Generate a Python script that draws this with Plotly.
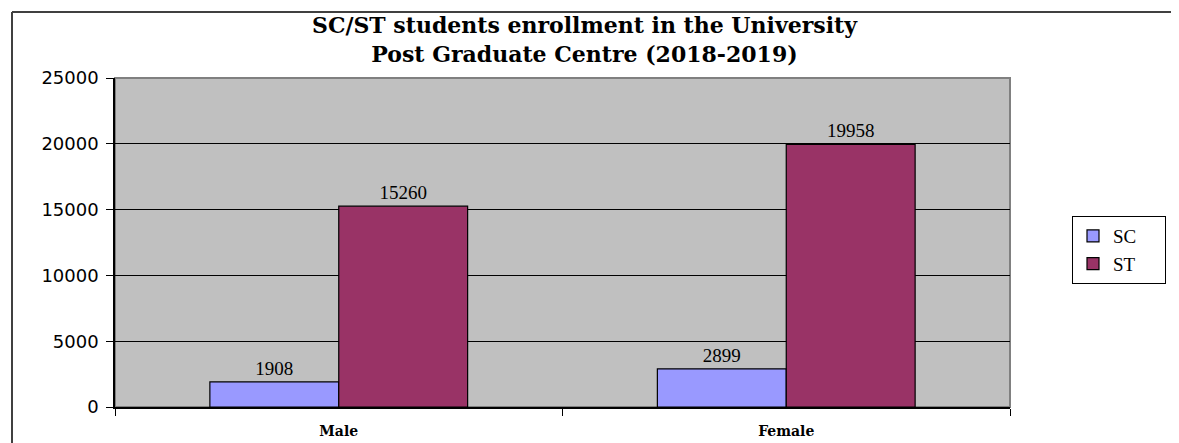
import plotly.graph_objects as go

# 데이터
categories = ["Male", "Female"]
series_names = ["SC", "ST"]
sc_values = [1908, 2899]
st_values = [15260, 19958]
y_ticks = [0, 5000, 10000, 15000, 20000, 25000]

# 브라우저 body 기본 여백(8px) 보정
OFF = 8
W, H = 1179 - OFF, 443 - OFF
PLOT_L, PLOT_R, PLOT_T, PLOT_B = 115 - OFF, 1010 - OFF, 78 - OFF, 407 - OFF


def px_x(px):
    return (px - OFF - PLOT_L) / (PLOT_R - PLOT_L)


def px_y(py):
    return (PLOT_B - (py - OFF)) / (PLOT_B - PLOT_T)


label_font = dict(family="Liberation Serif", size=19, color="black")
pad = "\u00a0" * 5  # 범례 박스 폭 확보용

fig = go.Figure()
fig.add_trace(go.Bar(
    x=categories, y=sc_values, name=series_names[0] + pad,
    marker=dict(color="#9999FF", line=dict(color="black", width=1.2)),
    text=[str(v) for v in sc_values], textposition="outside",
    textfont=label_font, cliponaxis=False,
))
fig.add_trace(go.Bar(
    x=categories, y=st_values, name=series_names[1] + pad,
    marker=dict(color="#993366", line=dict(color="black", width=1.2)),
    text=[str(v) for v in st_values], textposition="outside",
    textfont=label_font, cliponaxis=False,
))

# 외곽 차트 테두리 + 플롯 영역 테두리
shapes = [
    dict(type="line", xref="paper", yref="paper", x0=px_x(12), x1=px_x(12),
         y0=px_y(12), y1=px_y(470), line=dict(color="#404040", width=2)),
    dict(type="line", xref="paper", yref="paper", x0=px_x(12), x1=px_x(1200),
         y0=px_y(12), y1=px_y(12), line=dict(color="#404040", width=2)),
    dict(type="rect", xref="paper", yref="paper", x0=0, x1=1, y0=0, y1=1,
         line=dict(color="#808080", width=2), layer="below"),
]

fig.update_layout(
    width=W, height=H,
    margin=dict(l=PLOT_L, r=W - PLOT_R, t=PLOT_T, b=H - PLOT_B, autoexpand=False),
    paper_bgcolor="white",
    plot_bgcolor="#C0C0C0",
    barmode="group",
    bargap=0.424,
    bargroupgap=0,
    showlegend=True,
    legend=dict(
        x=px_x(1072), y=px_y(216), xanchor="left", yanchor="top",
        bordercolor="black", borderwidth=1, bgcolor="white",
        font=dict(family="Liberation Serif", size=19, color="black"),
        itemwidth=30, tracegroupgap=0,
    ),
    shapes=shapes,
    annotations=[dict(
        text="<b>SC/ST students enrollment in the University<br>Post Graduate Centre (2018-2019)</b>",
        xref="paper", yref="paper", x=px_x(585), y=px_y(10), xanchor="center", yanchor="top",
        showarrow=False, font=dict(family="DejaVu Serif", size=22, color="black"),
    )],
)

fig.update_xaxes(
    showline=True, linecolor="black", linewidth=1.5,
    ticks="outside", tickson="boundaries", ticklen=7, tickcolor="black",
    tickfont=dict(family="DejaVu Serif", size=14, color="black"),
    tickprefix="<b>", ticksuffix="</b>", ticklabelstandoff=10,
    showgrid=False,
)
fig.update_yaxes(
    range=[0, 25000], tickvals=y_ticks, tickformat="d",
    showline=True, linecolor="black", linewidth=1.5,
    ticks="outside", ticklen=7, tickcolor="black",
    tickfont=dict(family="DejaVu Sans", size=18, color="black"),
    ticklabelstandoff=4,
    showgrid=True, gridcolor="black", gridwidth=1,
    zeroline=False,
)

fig.write_html("out.html")
